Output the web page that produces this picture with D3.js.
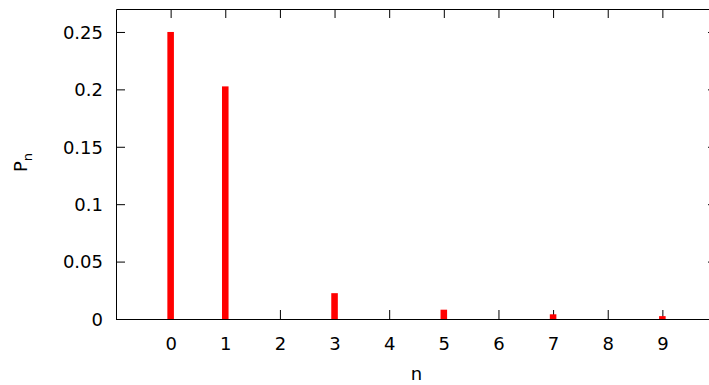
<!DOCTYPE html>
<html>
<head>
<meta charset="utf-8">
<script src="https://cdn.jsdelivr.net/npm/d3@7"></script>
<style>
  body { margin: 0; background: #fff; }
  svg { display: block; font-family: "DejaVu Sans", sans-serif; }
</style>
</head>
<body>
<div id="chart"></div>
<script>
// values
var nValues = [0, 1, 2, 3, 4, 5, 6, 7, 8, 9];
var pValues = [0.25, 0.2026, 0, 0.0225, 0, 0.0081, 0, 0.0041, 0, 0.0025];
var yTicks = [0, 0.05, 0.1, 0.15, 0.2, 0.25];
var xTicks = [0, 1, 2, 3, 4, 5, 6, 7, 8, 9];

var svg = d3.select("#chart").append("svg").attr("width", 709).attr("height", 385),
    margin = {top: 9, right: -8, bottom: 66, left: 116},
    width = 709 - margin.left - margin.right,
    height = 385 - margin.top - margin.bottom;

var x = d3.scaleLinear().domain([-1, 10]).range([0, width]);
var y = d3.scaleLinear().domain([0, 0.27]).range([height, 0]);

var g = svg.append("g")
    .attr("transform", "translate(" + margin.left + "," + margin.top + ")");

var fmt = function(d) { return d3.format("~g")(d); };

// axes (gnuplot style: ticks inward, mirrored)
var xb = g.append("g").attr("transform", "translate(0," + height + ")")
    .call(d3.axisBottom(x).tickValues(xTicks).tickFormat(fmt).tickSizeInner(-9).tickSizeOuter(0).tickPadding(18));
var xt = g.append("g")
    .call(d3.axisTop(x).tickValues(xTicks).tickFormat("").tickSizeInner(-9).tickSizeOuter(0));
var yl = g.append("g")
    .call(d3.axisLeft(y).tickValues(yTicks).tickFormat(fmt).tickSizeInner(-9).tickSizeOuter(0).tickPadding(13));
var yr = g.append("g").attr("transform", "translate(" + width + ",0)")
    .call(d3.axisRight(y).tickValues(yTicks).tickFormat("").tickSizeInner(-9).tickSizeOuter(0));

[xb, xt, yl, yr].forEach(function(a) {
    a.selectAll("path, line").attr("stroke", "#000").attr("stroke-width", 1);
    a.selectAll("text").attr("fill", "#000").style("font-size", "18px")
        .style("font-family", "DejaVu Sans, sans-serif");
});
yl.selectAll("text").attr("dy", "0.35em");

// bars drawn over the ticks
var barW = x(0.12) - x(0);
g.selectAll(".bar")
    .data(nValues)
    .enter().append("rect")
    .attr("class", "bar")
    .attr("x", function(d) { return x(d) - barW / 2; })
    .attr("width", barW)
    .attr("y", function(d, i) { return y(pValues[i]); })
    .attr("height", function(d, i) { return height - y(pValues[i]); })
    .attr("fill", "#ff0000");

// axis labels
svg.append("text")
    .attr("x", margin.left + width / 2)
    .attr("y", 380)
    .attr("text-anchor", "middle")
    .style("font-size", "18px")
    .text("n");

var ylab = svg.append("text")
    .attr("transform", "translate(27,172) rotate(-90)")
    .attr("text-anchor", "start")
    .style("font-size", "18px");
ylab.append("tspan").text("P");
ylab.append("tspan").attr("dy", 5).style("font-size", "13px").text("n");
</script>
</body>
</html>
